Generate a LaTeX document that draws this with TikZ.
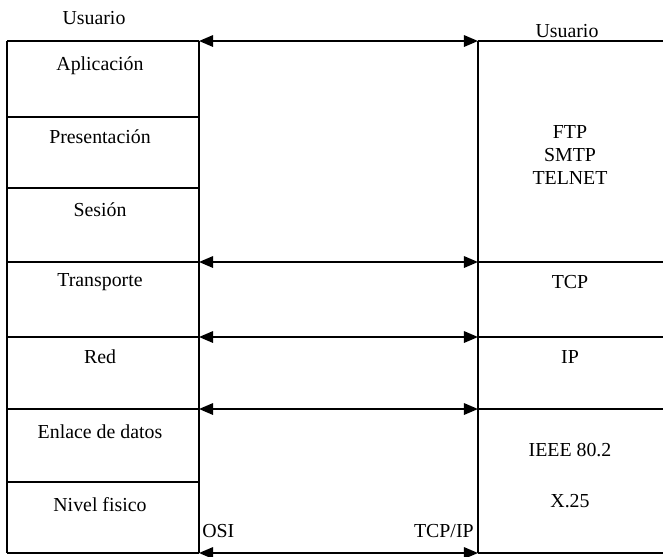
\documentclass[tikz,border=0pt]{standalone}
\usepackage{fontspec}
\setmainfont{Liberation Serif}
\usetikzlibrary{arrows.meta}

\begin{document}
\begin{tikzpicture}[x=0.02cm,y=-0.02cm,>={Triangle[length=8pt,width=6.5pt]},
    lbl/.style={font=\fontsize{11.3}{13}\selectfont,inner sep=0pt},
    rule/.style={line width=1.1pt},
    wall/.style={line width=0.9pt}]
  \useasboundingbox (0,0) rectangle (663,556);
  % columns
  \draw[wall] (7,41) -- (7,553);
  \draw[wall] (199,41) -- (199,553);
  \draw[wall] (478,41) -- (478,553);
  % OSI layers
  \foreach \y in {41,117,188,262,337,409,482,553}
    \draw[rule] (7,\y) -- (199,\y);
  % TCP/IP layers
  \foreach \y in {41,262,337,409,553}
    \draw[rule] (478,\y) -- (663,\y);
  % peer arrows
  \foreach \y/\n in {41/a,262/b,337/c,409/d,553/e}{
    \coordinate (osi\n) at (199,\y);
    \coordinate (tcp\n) at (478,\y);
    \draw[rule,<->] (osi\n) -- (tcp\n);
  }
  \node[lbl] (userL) at (94,18) {Usuario};
  \node[lbl,anchor=south,inner sep=1.5pt] (userR) at (567,41) {Usuario};
  \node[lbl] (apl) at (100,66) {Aplicación};
  \node[lbl] (pres) at (100,137) {Presentación};
  \node[lbl] (ses) at (100,210) {Sesión};
  \node[lbl] (trans) at (100,282) {Transporte};
  \node[lbl] (red) at (100,357) {Red};
  \node[lbl] (enl) at (100,432) {Enlace de datos};
  \node[lbl] (fis) at (100,505) {Nivel fisico};
  \node[lbl,align=center] (apps) at (570,155) {FTP\\SMTP\\TELNET};
  \node[lbl] (tcp) at (570,282) {TCP};
  \node[lbl] (ip) at (570,357) {IP};
  \node[lbl] (ieee) at (570,450) {IEEE 80.2};
  \node[lbl] (x25) at (570,501) {X.25};
  \node[lbl,anchor=west] (osi) at (202,531) {OSI};
  \node[lbl,anchor=east] (tcpip) at (474,531) {TCP/IP};
\end{tikzpicture}
\end{document}
